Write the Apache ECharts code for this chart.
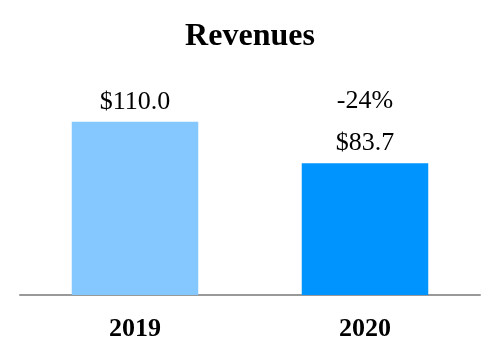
<!DOCTYPE html>
<html><head><meta charset="utf-8">
<script src="https://cdn.jsdelivr.net/npm/echarts@6/dist/echarts.min.js"></script>
<style>html,body{margin:0;padding:0;background:#fff}#c{width:500px;height:360px}</style>
</head><body><div id="c"></div>
<script>
var categories = ['2019', '2020'];
var revenues = [110.0, 83.7];
var changes = ['', '-24%'];
var colors = ['#85C8FF', '#0094FF'];

var chart = echarts.init(document.getElementById('c'));
var serif = '"Liberation Serif", "Times New Roman", serif';
chart.setOption({
  animation: false,
  title: {text: 'Revenues', left: 'center', top: 16,
    textStyle: {fontFamily: serif, fontWeight: 'bold', fontSize: 32, color: '#000'}},
  grid: {left: 20, right: 20, top: 74.5, bottom: 65},
  xAxis: {type: 'category', data: categories,
    axisLine: {lineStyle: {color: '#999', width: 2}}, axisTick: {show: false},
    axisLabel: {margin: 21, fontFamily: serif, fontWeight: 'bold', fontSize: 26, color: '#000'}},
  yAxis: {type: 'value', min: 0, max: 140, show: false, splitLine: {show: false}},
  series: [{
    type: 'bar', barWidth: '55%',
    data: revenues.map(function (v, i) { return {value: v, itemStyle: {color: colors[i]}}; }),
    label: {show: true, position: 'top', distance: 7, fontFamily: serif, fontSize: 26, color: '#000',
      formatter: function (p) {
        var s = '{v|$' + p.value.toFixed(1) + '}';
        if (changes[p.dataIndex]) s = '{p|' + changes[p.dataIndex] + '}\n' + s;
        return s;
      },
      rich: {p: {fontFamily: serif, fontSize: 26, color: '#000', lineHeight: 58},
             v: {fontFamily: serif, fontSize: 26, color: '#000', lineHeight: 26}}}
  }]
});
</script></body></html>
